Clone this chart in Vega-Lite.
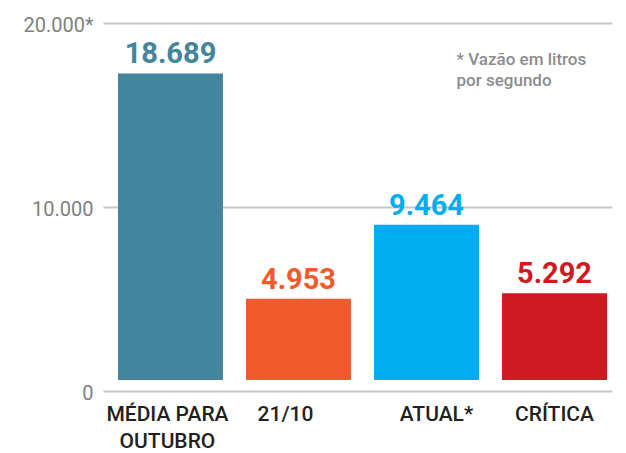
{
  "$schema": "https://vega.github.io/schema/vega-lite/v6.json",
  "width": 509,
  "height": 368,
  "autosize": {"type": "none"},
  "padding": {"left": 103, "top": 23, "right": 14, "bottom": 62},
  "background": "white",
  "config": {"view": {"stroke": null}, "font": "Roboto"},
  "datasets": {
    "bars": [
      {"categoria": "MÉDIA PARA OUTUBRO", "rotulo": "18.689", "vazao": 18689},
      {"categoria": "21/10", "rotulo": "4.953", "vazao": 4953},
      {"categoria": "ATUAL*", "rotulo": "9.464", "vazao": 9464},
      {"categoria": "CRÍTICA", "rotulo": "5.292", "vazao": 5292}
    ],
    "nota": [{"categoria": "ATUAL*", "texto": "* Vazão em litros\npor segundo"}]
  },
  "layer": [
    {
      "data": {"name": "nota"},
      "mark": {"type": "text", "align": "left", "baseline": "alphabetic", "lineBreak": "\n", "lineHeight": 21, "fontSize": 17, "fontWeight": 500, "color": "#8c8c8c", "dx": 30},
      "encoding": {
        "x": {
          "field": "categoria",
          "type": "nominal",
          "scale": {"domain": ["MÉDIA PARA OUTUBRO", "21/10", "ATUAL*", "CRÍTICA"], "paddingInner": 0.18, "paddingOuter": 0.078, "align": 0.75},
          "axis": {
            "title": null,
            "domain": false,
            "ticks": false,
            "labelAngle": 0,
            "labelFontSize": 21,
            "labelFontWeight": 500,
            "labelColor": "#231f20",
            "labelPadding": 12,
            "labelLineHeight": 27,
            "labelOffset": {"condition": [{"test": "datum.value == '21/10'", "value": -13}, {"test": "datum.value == 'ATUAL*'", "value": 10}, {"test": "datum.value == 'MÉDIA PARA OUTUBRO'", "value": -3}], "value": 0},
            "labelExpr": "datum.label == 'MÉDIA PARA OUTUBRO' ? ['MÉDIA PARA', 'OUTUBRO'] : datum.label"
          }
        },
        "y": {
          "datum": 17700,
          "type": "quantitative",
          "scale": {"domain": [0, 20000], "nice": false, "zero": false},
          "axis": {
            "values": [0, 10000, 20000],
            "labelExpr": "datum.value == 20000 ? '20.000*' : datum.value == 10000 ? '10.000' : '0'",
            "grid": true,
            "gridColor": "#c6c6c6",
            "gridWidth": 2,
            "domain": false,
            "ticks": false,
            "labelPadding": 10,
            "labelFontSize": 20,
            "labelColor": "#808080",
            "labelBaseline": "middle",
            "labelOffset": 2,
            "title": null
          }
        },
        "text": {"field": "texto"}
      }
    },
    {
      "data": {"name": "bars"},
      "encoding": {
        "x": {
          "field": "categoria",
          "type": "nominal",
          "scale": {"domain": ["MÉDIA PARA OUTUBRO", "21/10", "ATUAL*", "CRÍTICA"], "paddingInner": 0.18, "paddingOuter": 0.078, "align": 0.75},
          "axis": {
            "title": null,
            "domain": false,
            "ticks": false,
            "labelAngle": 0,
            "labelFontSize": 21,
            "labelFontWeight": 500,
            "labelColor": "#231f20",
            "labelPadding": 12,
            "labelLineHeight": 27,
            "labelOffset": {"condition": [{"test": "datum.value == '21/10'", "value": -13}, {"test": "datum.value == 'ATUAL*'", "value": 10}, {"test": "datum.value == 'MÉDIA PARA OUTUBRO'", "value": -3}], "value": 0},
            "labelExpr": "datum.label == 'MÉDIA PARA OUTUBRO' ? ['MÉDIA PARA', 'OUTUBRO'] : datum.label"
          }
        },
        "y": {
          "field": "vazao",
          "type": "quantitative",
          "scale": {"domain": [-671, 21768], "nice": false, "zero": false},
          "axis": null
        },
        "color": {
          "field": "categoria",
          "type": "nominal",
          "scale": {
            "domain": ["MÉDIA PARA OUTUBRO", "21/10", "ATUAL*", "CRÍTICA"],
            "range": ["#43849f", "#f15a2b", "#00aeef", "#cf1a21"]
          },
          "legend": null
        }
      },
      "layer": [
        {
          "mark": {"type": "bar"},
          "encoding": {"y2": {"datum": 0}}
        },
        {
          "mark": {"type": "text", "baseline": "alphabetic", "dy": -10, "fontSize": 29, "fontWeight": "bold"},
          "encoding": {"text": {"field": "rotulo"}}
        }
      ]
    }
  ],
  "resolve": {"scale": {"y": "independent"}, "axis": {"y": "independent"}}
}
